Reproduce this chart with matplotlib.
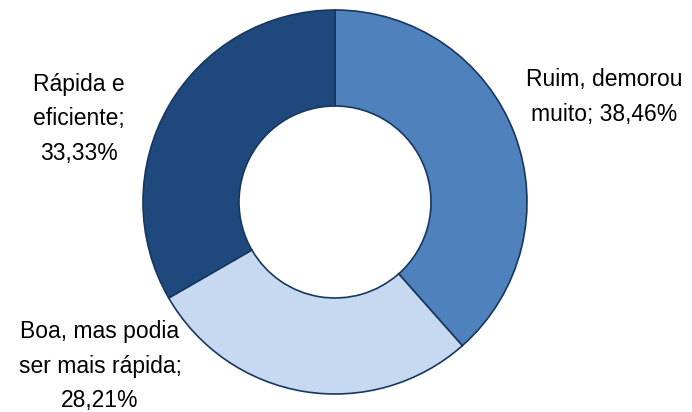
import matplotlib
matplotlib.use("Agg")
import matplotlib.pyplot as plt

categories = ["Ruim, demorou\nmuito", "Boa, mas podia\nser mais rápida", "Rápida e\neficiente"]
values = [38.46, 28.21, 33.33]
colors = ["#4F81BD", "#C6D9F1", "#1F497D"]

W, H = 692, 412
fig = plt.figure(figsize=(W / 100, H / 100), dpi=100)
cx, cy, R = 335, 202, 192
ax = fig.add_axes([(cx - R) / W, (H - cy - R) / H, 2 * R / W, 2 * R / H])
ax.pie(values, colors=colors, startangle=90, counterclock=False, radius=1.0,
       wedgeprops=dict(width=0.5, edgecolor="#17375E", linewidth=1.2))
ax.set_xlim(-1.0, 1.0)
ax.set_ylim(-1.0, 1.0)
ax.set_aspect("equal")
ax.axis("off")

def fmt(v):
    return f"{v:.2f}".replace(".", ",") + "%"

font = dict(family="Liberation Sans", fontsize=16.5, color="black", linespacing=1.65, ha="center", va="center")
fig.text(604 / W, 1 - 97 / H, "Ruim, demorou\nmuito; " + fmt(values[0]), **font)
fig.text(79 / W, 1 - 119 / H, "Rápida e\neficiente;\n" + fmt(values[2]), **font)
fig.text(100 / W, 1 - 366 / H, "Boa, mas podia\nser mais rápida;\n" + fmt(values[1]), **font)

fig.savefig("out.png", dpi=100)
